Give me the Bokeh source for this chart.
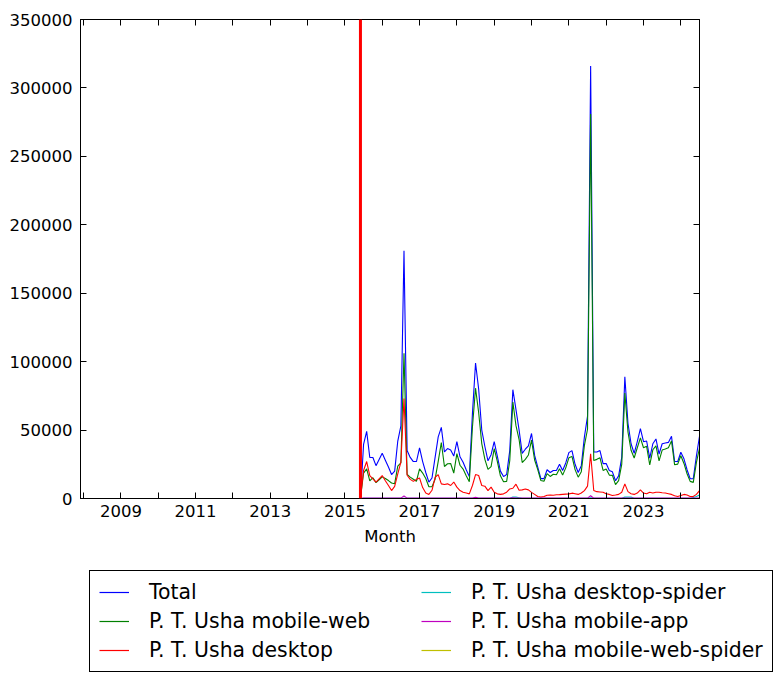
from bokeh.plotting import figure
from bokeh.models import Range1d, FixedTicker, LinearAxis, Span, Legend, LegendItem
from bokeh.embed import file_html
from bokeh.resources import INLINE

FONT = "DejaVu Sans"

# ---- month axis: Dec 2007 .. Jul 2024 (monthly) ----
start_month = (2007, 12)
end_month = (2024, 7)
cutover_month = (2015, 6)   # red vertical marker

# ---- series values, Jul 2015 .. Jul 2024 (earlier months are 0) ----
total = [
    39500, 49000, 30000, 30000, 24000, 28500, 33000, 28000, 23000, 17500, 20000, 42000,
    53000, 181000, 35000, 30000, 27000, 27000, 37000, 27000, 19000, 12000, 15000, 30000,
    45000, 52000, 34000, 36500, 35500, 31000, 41500, 30500, 26500, 21000, 16000, 62000,
    99000, 80000, 50000, 38000, 27500, 32000, 41500, 31000, 20000, 16000, 17500, 35000,
    79500, 65000, 50000, 33000, 36000, 38500, 47500, 31500, 23000, 14500, 14500, 21000,
    19000, 20500, 20500, 25000, 20500, 26000, 33500, 35000, 25000, 19000, 24000, 45000,
    60000, 316000, 34000, 34000, 35000, 25500, 25500, 20500, 19500, 13000, 16500, 30000,
    89000, 55000, 40000, 33000, 41500, 51000, 41500, 42000, 29500, 40000, 43500, 32500,
    40000, 40500, 41000, 45500, 27000, 27000, 33800, 29000, 21000, 14400, 14400, 31000,
    45500,
]
mobile_web = [
    18600, 21600, 12800, 15200, 11600, 13700, 15800, 14600, 13100, 11300, 10800, 23600,
    26100, 106100, 17600, 15600, 14100, 12600, 21600, 18600, 14600, 8600, 8600, 14100,
    27100, 40900, 23400, 25400, 25600, 18600, 32800, 24300, 21500, 16600, 12200, 52100,
    80600, 62800, 40100, 28600, 21300, 23300, 36500, 27200, 16600, 12200, 12500, 27600,
    70400, 53200, 43100, 26300, 28600, 31800, 42600, 28100, 21100, 13100, 12600, 18200,
    16100, 17700, 17400, 21800, 17100, 22400, 29700, 30700, 21100, 15600, 19600, 38800,
    50600, 280900, 27800, 28600, 29800, 20500, 21600, 17100, 16900, 10100, 13100, 25000,
    77000, 48700, 35200, 29600, 37100, 44300, 37100, 38100, 24500, 35600, 38500, 27500,
    35400, 36100, 37100, 42100, 24600, 25100, 31200, 25600, 18100, 12500, 11800, 26200,
    36900,
]
desktop = [
    20500, 27000, 16800, 14400, 12000, 14400, 16800, 13000, 9500, 5800, 8800, 18000,
    26500, 73000, 17000, 14000, 12500, 14000, 15000, 8000, 4000, 3000, 6000, 15500,
    17500, 10700, 10200, 10700, 9500, 12000, 8300, 5800, 4600, 4000, 3400, 9500,
    17500, 16800, 9500, 9000, 5800, 8300, 4600, 3400, 3000, 3400, 4600, 7000,
    7500, 10500, 6000, 6300, 7000, 6300, 4500, 3000, 1500, 1000, 1500, 2400,
    2500, 2400, 2700, 2800, 3000, 3200, 3400, 3900, 3500, 3000, 4000, 5800,
    9000, 32600, 5800, 5000, 4800, 4600, 3500, 3000, 2200, 2500, 3000, 4600,
    10700, 5000, 3500, 3000, 4000, 6300, 4000, 3500, 4600, 4000, 4600, 4600,
    4200, 4000, 3500, 3000, 2000, 1500, 2200, 3000, 2500, 1500, 1500, 3000,
    5800,
]
desktop_spider = [
    100, 100, 100, 100, 100, 100, 100, 100, 100, 100, 100, 100,
    100, 100, 100, 100, 100, 100, 100, 100, 100, 100, 100, 100,
    100, 100, 100, 100, 100, 100, 100, 100, 100, 100, 100, 100,
    100, 100, 100, 100, 100, 100, 100, 100, 100, 100, 100, 100,
    1000, 1000, 600, 100, 100, 100, 100, 100, 100, 100, 100, 100,
    100, 100, 100, 100, 100, 100, 100, 100, 100, 100, 100, 100,
    100, 500, 100, 100, 100, 100, 100, 100, 100, 100, 100, 100,
    1000, 1000, 1000, 100, 100, 100, 100, 100, 100, 100, 100, 100,
    100, 100, 100, 100, 100, 100, 100, 100, 100, 100, 800, 1500,
    2500,
]
mobile_app = [
    300, 300, 300, 300, 300, 300, 300, 300, 300, 300, 300, 300,
    300, 1800, 300, 300, 300, 300, 300, 300, 300, 300, 300, 300,
    300, 300, 300, 300, 300, 300, 300, 300, 300, 300, 300, 300,
    800, 300, 300, 300, 300, 300, 300, 300, 300, 300, 300, 300,
    600, 300, 300, 300, 300, 300, 300, 300, 300, 300, 300, 300,
    300, 300, 300, 300, 300, 300, 300, 300, 300, 300, 300, 300,
    300, 2000, 300, 300, 300, 300, 300, 300, 300, 300, 300, 300,
    300, 300, 300, 300, 300, 300, 300, 300, 300, 300, 300, 300,
    300, 300, 300, 300, 300, 300, 300, 300, 300, 300, 300, 300,
    300,
]
mobile_web_spider = [
    20, 20, 20, 20, 20, 20, 20, 20, 20, 20, 20, 20,
    20, 20, 20, 20, 20, 20, 20, 20, 20, 20, 20, 20,
    20, 20, 20, 20, 20, 20, 20, 20, 20, 20, 20, 20,
    20, 20, 20, 20, 20, 20, 20, 20, 20, 20, 20, 20,
    20, 20, 20, 20, 20, 20, 20, 20, 20, 20, 20, 20,
    20, 20, 20, 20, 20, 20, 20, 20, 20, 20, 20, 20,
    20, 20, 20, 20, 20, 20, 20, 20, 20, 20, 20, 20,
    20, 20, 20, 20, 20, 20, 20, 20, 20, 20, 20, 20,
    20, 20, 20, 20, 20, 20, 20, 20, 20, 20, 20, 20,
    20,
]

series_names = [
    "Total",
    "P. T. Usha mobile-web",
    "P. T. Usha desktop",
    "P. T. Usha desktop-spider",
    "P. T. Usha mobile-app",
    "P. T. Usha mobile-web-spider",
]
series_colors = ["#0000ff", "#008000", "#ff0000", "#00bfbf", "#bf00bf", "#bfbf00"]

year_ticks = list(range(2008, 2025))
year_labels = {y: (str(y) if y % 2 == 1 else "") for y in year_ticks}
y_ticks = [0, 50000, 100000, 150000, 200000, 250000, 300000, 350000]
y_labels = {v: str(v) for v in y_ticks}


def frac(ym):
    return ym[0] + (ym[1] - 1) / 12.0


months = []
yy, mm = start_month
while (yy, mm) <= end_month:
    months.append(frac((yy, mm)))
    mm += 1
    if mm > 12:
        mm = 1
        yy += 1

n_pre = len(months) - len(total)
all_series = [total, mobile_web, desktop, desktop_spider, mobile_app, mobile_web_spider]
full_series = [[0] * n_pre + vals for vals in all_series]

W = 776
H_MAIN = 560
H_LEG = 116

p = figure(
    width=W, height=H_MAIN,
    output_backend="svg", toolbar_location=None,
    x_range=Range1d(frac(start_month), frac(end_month)),
    y_range=Range1d(0, 350000),
    min_border_left=80, min_border_right=W - 80 - 619,
    min_border_top=19, min_border_bottom=H_MAIN - 19 - 479,
    background_fill_color="white", border_fill_color="white",
    outline_line_color="black", outline_line_width=1,
)
p.grid.visible = False

for ys, col in zip(full_series, series_colors):
    p.line(months, ys, line_color=col, line_width=1.1)

p.add_layout(Span(location=frac(cutover_month), dimension="height",
                  line_color="#ff0000", line_width=3))


def style_axis(ax, labels=True):
    ax.axis_line_color = "black"
    ax.major_tick_in = 6
    ax.major_tick_out = 0
    ax.major_tick_line_color = "black"
    ax.minor_tick_line_color = None
    ax.major_label_text_font = FONT
    if labels:
        ax.major_label_text_color = "black"
        ax.major_label_text_font_size = "16.5px"
    else:
        ax.major_label_text_color = None
        ax.major_label_text_font_size = "1px"
        ax.major_label_standoff = 0


xa = p.xaxis[0]
xa.ticker = FixedTicker(ticks=year_ticks)
xa.major_label_overrides = year_labels
style_axis(xa)
xa.major_label_standoff = 6
xa.axis_label = "Month"
xa.axis_label_text_font = FONT
xa.axis_label_text_font_size = "16.5px"
xa.axis_label_text_font_style = "normal"
xa.axis_label_text_color = "black"
xa.axis_label_standoff = 7

ya = p.yaxis[0]
ya.ticker = FixedTicker(ticks=y_ticks)
ya.major_label_overrides = y_labels
style_axis(ya)
ya.major_label_standoff = 8

ta = LinearAxis(ticker=FixedTicker(ticks=year_ticks))
style_axis(ta, labels=False)
p.add_layout(ta, "above")
ra = LinearAxis(ticker=FixedTicker(ticks=y_ticks))
style_axis(ra, labels=False)
p.add_layout(ra, "right")

# ---- legend strip below the chart: a separate root, so its frame spans its full width ----
lf = figure(
    width=W, height=H_LEG,
    output_backend="svg", toolbar_location=None,
    x_range=Range1d(0, 1), y_range=Range1d(0, 1),
    x_axis_location=None, y_axis_location=None,
    min_border_left=0, min_border_right=0, min_border_top=0, min_border_bottom=0,
    background_fill_color="white", border_fill_color="white",
    outline_line_color=None,
)
lf.grid.visible = False
# same series, outside this strip's visible range: only their legend glyphs show
leg_renderers = [lf.line(months, ys, line_color=c, line_width=1.2)
                 for ys, c in zip(full_series, series_colors)]

legend = Legend(
    items=[LegendItem(label=n, renderers=[r]) for n, r in zip(series_names, leg_renderers)],
    location=(89, 4),
    orientation="vertical", ncols=2,
    label_text_font=FONT, label_text_font_size="20.4px", label_text_color="black",
    glyph_width=30, glyph_height=20, label_standoff=20, label_width=267,
    spacing=5, padding=9, margin=0,
    border_line_color="black", border_line_width=1, border_line_alpha=1,
    background_fill_color="white", background_fill_alpha=1,
)
lf.add_layout(legend, "center")

open("out.html", "w").write(file_html([p, lf], INLINE))
